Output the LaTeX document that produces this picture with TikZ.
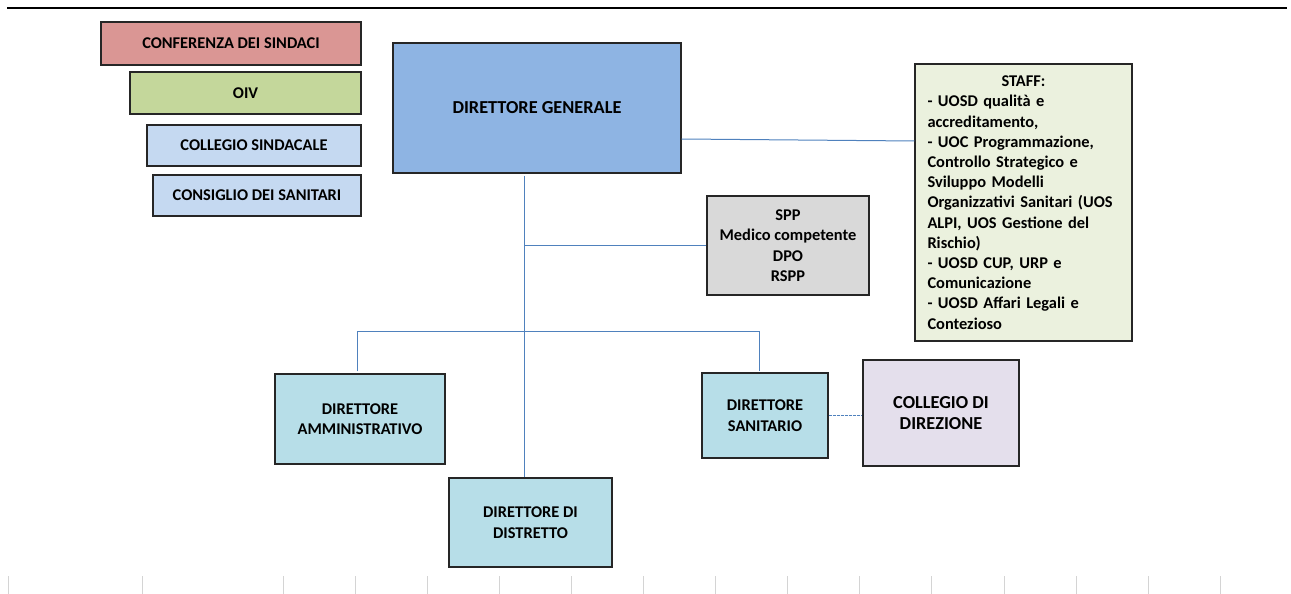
\documentclass[tikz,border=0pt]{standalone}
\usepackage{fontspec}
\setmainfont{Carlito}
\definecolor{cRed}{HTML}{DA9694}
\definecolor{cGreen}{HTML}{C4D79B}
\definecolor{cLBlue}{HTML}{C5D9F1}
\definecolor{cBlue}{HTML}{8EB4E3}
\definecolor{cGrey}{HTML}{D9D9D9}
\definecolor{cStaff}{HTML}{EBF1DE}
\definecolor{cTeal}{HTML}{B7DEE8}
\definecolor{cLilac}{HTML}{E4DFEC}
\definecolor{cLine}{HTML}{4F81BD}
\definecolor{cGrid}{HTML}{D4D4D4}
\begin{document}
\begin{tikzpicture}[x=1bp,y=-1bp,
  box/.style={draw=black!85, line width=1.1bp, rectangle, inner sep=0pt, align=center,
    font=\fontsize{16.4bp}{20.5bp}\selectfont\bfseries},
  big/.style={font=\fontsize{18.3bp}{21bp}\selectfont\bfseries},
  conn/.style={draw=cLine, line width=1bp},
  grid/.style={draw=cGrid, line width=0.8bp}]
\useasboundingbox (0,0) rectangle (1291,594);
\draw[line width=1.2bp] (7,8) -- (1287,8);
\foreach \gx in {8,142,283,355,427,499,571,643,715,787,859,931,1004,1076,1148,1220}
  \draw[grid] (\gx,576) -- (\gx,594);

\node[box, fill=cRed, minimum width=260bp, minimum height=43bp] (conf) at (231,43.5) {CONFERENZA DEI SINDACI};
\node[box, fill=cGreen, minimum width=231bp, minimum height=42bp] (oiv) at (245.5,93) {OIV};
\node[box, fill=cLBlue, minimum width=214bp, minimum height=41bp] (cs) at (254,145.5) {COLLEGIO SINDACALE};
\node[box, fill=cLBlue, minimum width=208bp, minimum height=41bp] (csan) at (257,195.5) {CONSIGLIO DEI SANITARI};

\node[box, big, fill=cBlue, minimum width=288bp, minimum height=130bp] (dg) at (537,108) {DIRETTORE GENERALE};
\node[box, fill=cGrey, minimum width=162bp, minimum height=99bp] (spp) at (788,245.5) {SPP\\Medico competente\\DPO\\RSPP};
\node[box, fill=cStaff, minimum width=217bp, minimum height=277bp, text width=192bp, align=left, font=\fontsize{16.4bp}{20.2bp}\selectfont\bfseries] (staff) at (1023.5,202.5)
  {\makebox[192bp][c]{STAFF:}\\- UOSD qualità e\\accreditamento,\\- UOC Programmazione,\\Controllo Strategico e\\Sviluppo Modelli\\Organizzativi Sanitari (UOS\\ALPI, UOS Gestione del\\Rischio)\\- UOSD CUP, URP e\\Comunicazione\\- UOSD Affari Legali e\\Contezioso};

\node[box, fill=cTeal, minimum width=170bp, minimum height=90bp] (amm) at (360,419) {DIRETTORE\\AMMINISTRATIVO};
\node[box, fill=cTeal, minimum width=163bp, minimum height=89bp] (dist) at (530.5,522.5) {DIRETTORE DI\\DISTRETTO};
\node[box, fill=cTeal, minimum width=126bp, minimum height=85bp] (san) at (765,415.5) {DIRETTORE\\SANITARIO};
\node[box, big, fill=cLilac, minimum width=156bp, minimum height=106bp] (cdd) at (941,413) {COLLEGIO DI\\DIREZIONE};

\draw[conn] ([yshift=-31bp]dg.east) -- ([yshift=61.5bp]staff.west);
\coordinate (t0) at (524,176);
\draw[conn] (t0) -- (t0 |- dist.north);
\draw[conn] (spp.west -| t0) -- (spp.west);
\coordinate (bl) at (357,331);
\coordinate (br) at (759,331);
\draw[conn] ([yshift=2bp]bl |- amm.north) -- (bl) -- (br) -- ([yshift=1bp]br |- san.north);
\draw[conn, dashed, dash pattern=on 3bp off 1bp] (san.east) -- (san.east -| cdd.west);
\end{tikzpicture}
\end{document}
